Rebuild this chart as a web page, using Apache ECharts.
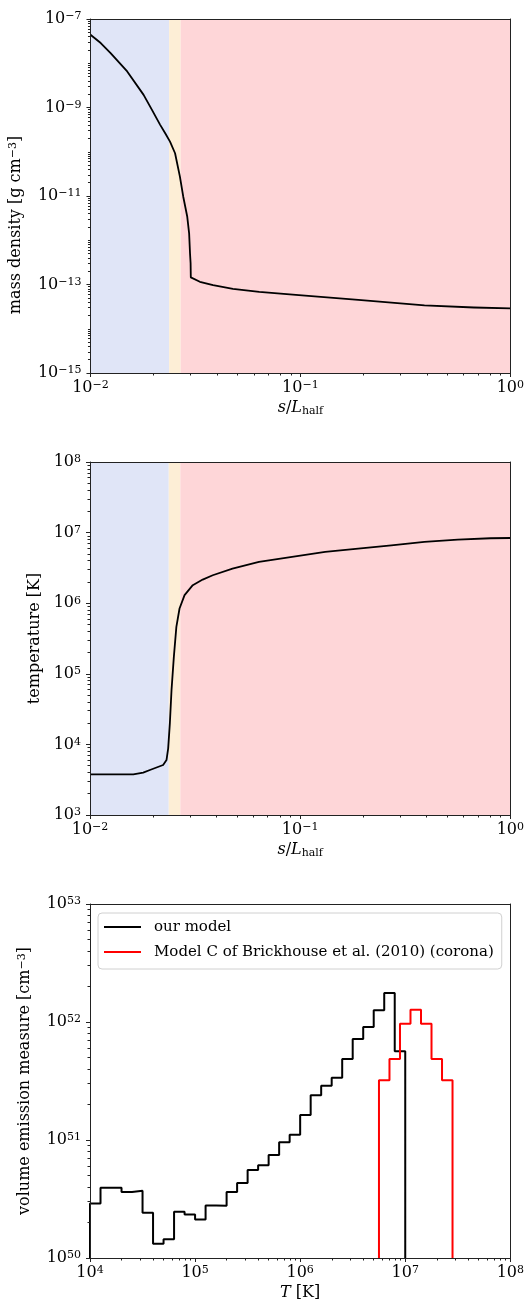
<!DOCTYPE html>
<html><head><meta charset="utf-8">
<script src="https://cdn.jsdelivr.net/npm/echarts@6/dist/echarts.min.js"></script>
<style>html,body{margin:0;padding:0;background:#fff}#c{width:527px;height:1306px}</style>
</head><body><div id="c"></div>
<script>
// ---------------- data ----------------
const densityS   = [0.01, 0.01119, 0.01247, 0.01496, 0.01791, 0.01963, 0.02148, 0.0227, 0.02393, 0.02529, 0.02667, 0.02767, 0.02891, 0.02951, 0.0298, 0.02999, 0.03006, 0.0332, 0.03837, 0.0477, 0.06368, 0.0984, 0.1888, 0.39, 0.671, 1.0];
const densityRho = [4.42e-8, 2.86e-8, 1.70e-8, 6.52e-9, 1.93e-9, 8.85e-10, 4.05e-10, 2.62e-10, 1.69e-10, 9.25e-11, 2.74e-11, 9.64e-12, 3.39e-12, 1.43e-12, 5.0e-13, 3.02e-13, 1.45e-13, 1.15e-13, 9.66e-14, 7.98e-14, 6.82e-14, 5.75e-14, 4.47e-14, 3.39e-14, 3.02e-14, 2.88e-14];

const tempS = [0.01, 0.01607, 0.01791, 0.01928, 0.02228, 0.02312, 0.02355, 0.02399, 0.02443, 0.02506, 0.02576, 0.02667, 0.02818, 0.03083, 0.03438, 0.03837, 0.04764, 0.06368, 0.0915, 0.1315, 0.1888, 0.2716, 0.39, 0.5623, 0.8045, 1.0];
const tempT = [3760, 3760, 3980, 4335, 5105, 6010, 8790, 2.0e4, 5.89e4, 1.74e5, 4.62e5, 8.41e5, 1.30e6, 1.80e6, 2.16e6, 2.49e6, 3.09e6, 3.85e6, 4.53e6, 5.32e6, 5.94e6, 6.61e6, 7.38e6, 7.94e6, 8.32e6, 8.39e6];

const regionEdges  = [0.01, 0.0237, 0.0269, 1];
const regionColors = ['#e0e5f7', '#fdeed6', '#fed6d8'];

const oursLogEdges = [4.0,4.1,4.2,4.3,4.4,4.5,4.6,4.7,4.8,4.9,5.0,5.1,5.2,5.3,5.4,5.5,5.6,5.7,5.8,5.9,6.0,6.1,6.2,6.3,6.4,6.5,6.6,6.7,6.8,6.9,7.0];
const oursEM = [2.90e50, 3.93e50, 3.93e50, 3.63e50, 3.72e50, 2.42e50, 1.32e50, 1.44e50, 2.47e50, 2.34e50, 2.12e50, 2.79e50, 2.77e50, 3.63e50, 4.33e50, 5.58e50, 6.12e50, 7.45e50, 9.55e50, 1.11e51, 1.63e51, 2.40e51, 2.88e51, 3.37e51, 4.86e51, 7.18e51, 9.08e51, 1.256e52, 1.758e52, 5.65e51];
const brickLogEdges = [6.75,6.85,6.95,7.05,7.15,7.25,7.35,7.45];
const brickEM = [3.21e51, 4.86e51, 9.68e51, 1.27e52, 9.68e51, 4.86e51, 3.21e51];

const sTicks   = [0.01, 0.1, 1];
const rhoTicks = [1e-15, 1e-13, 1e-11, 1e-9, 1e-7];
const tempTicks = [1e3, 1e4, 1e5, 1e6, 1e7, 1e8];
const TTicks   = [1e4, 1e5, 1e6, 1e7, 1e8];
const emTicks  = [1e50, 1e51, 1e52, 1e53];

const seriesNames = ['our model', 'Model C of Brickhouse et al. (2010) (corona)'];

// ---------------- helpers ----------------
const FF = '"DejaVu Serif", serif';
function minorTicks(e0, e1) {
  const out = [];
  for (let e = e0; e < e1; e++) for (let k = 2; k <= 9; k++) out.push(k * Math.pow(10, e));
  return out;
}
function pow10Label(v) {
  const e = Math.round(Math.log10(v));
  return '{b|10}{s|' + (e < 0 ? '\u2212' + (-e) : String(e)) + '}';
}
const rich = {
  b:  {fontFamily: FF, fontSize: 16, lineHeight: 16, verticalAlign: 'bottom', color: '#000'},
  s:  {fontFamily: FF, fontSize: 11, lineHeight: 11, verticalAlign: 'top', padding: [0,0,8,0], color: '#000'},
  n:  {fontFamily: FF, fontSize: 16, lineHeight: 16, verticalAlign: 'top', color: '#000'},
  it: {fontFamily: FF, fontSize: 16, lineHeight: 16, verticalAlign: 'top', fontStyle: 'italic', color: '#000'},
  sub:{fontFamily: FF, fontSize: 11, lineHeight: 11, verticalAlign: 'top', padding: [6,0,0,0], color: '#000'}
};
function stepPoints(logEdges, vals, base) {
  const pts = [[Math.pow(10, logEdges[0]), base]];
  for (let i = 0; i < vals.length; i++) {
    pts.push([Math.pow(10, logEdges[i]), vals[i]]);
    pts.push([Math.pow(10, logEdges[i + 1]), vals[i]]);
  }
  pts.push([Math.pow(10, logEdges[logEdges.length - 1]), base]);
  return pts;
}
const AX = '#222';
function mainAxis(grid, pos, min, max, majors, name, nameGap, extra) {
  return Object.assign({
    type: 'log', logBase: 10, gridIndex: grid, position: pos, min: min, max: max, z: 10,
    axisLine: {show: true, lineStyle: {color: AX, width: 1}},
    axisTick: {show: true, inside: false, length: 4, customValues: majors, lineStyle: {color: AX, width: 1}},
    axisLabel: {show: true, customValues: majors, formatter: pow10Label, rich: rich, margin: (pos === 'left' ? 9 : 7)},
    splitLine: {show: false},
    minorTick: {show: false},
    name: name, nameLocation: 'middle', nameGap: nameGap,
    nameTextStyle: {rich: rich}
  }, extra || {});
}
function minorAxis(grid, pos, min, max, minors) {
  return {
    type: 'log', logBase: 10, gridIndex: grid, position: pos, min: min, max: max, z: 11,
    axisLine: {show: false},
    axisTick: {show: true, inside: false, length: 2.5, customValues: minors, lineStyle: {color: AX, width: 1}},
    axisLabel: {show: false, customValues: minors}, splitLine: {show: false}
  };
}
function frameAxis(grid, pos, min, max) {
  return {
    type: 'log', logBase: 10, gridIndex: grid, position: pos, min: min, max: max, z: 10,
    axisLine: {show: true, onZero: false, lineStyle: {color: AX, width: 1}},
    axisTick: {show: false}, axisLabel: {show: false}, splitLine: {show: false}
  };
}
const sName = '{it|s}{n|/}{it|L}{sub|half}';

const markAreaData = [];
for (let i = 0; i < regionColors.length; i++) {
  markAreaData.push([{xAxis: regionEdges[i], itemStyle: {color: regionColors[i]}}, {xAxis: regionEdges[i + 1]}]);
}

const option = {
  animation: false,
  backgroundColor: '#fff',
  textStyle: {fontFamily: FF},
  grid: [
    {left: 90, top: 19, width: 423, height: 354},
    {left: 90, top: 462, width: 423, height: 353},
    {left: 90, top: 904, width: 423, height: 354}
  ],
  xAxis: [
    mainAxis(0, 'bottom', 0.01, 1, sTicks, sName, 26),
    minorAxis(0, 'bottom', 0.01, 1, minorTicks(-2, 0)),
    frameAxis(0, 'top', 0.01, 1),
    mainAxis(1, 'bottom', 0.01, 1, sTicks, sName, 26),
    minorAxis(1, 'bottom', 0.01, 1, minorTicks(-2, 0)),
    frameAxis(1, 'top', 0.01, 1),
    mainAxis(2, 'bottom', 1e4, 1e8, TTicks, '{it|T}{n| [K]}', 26),
    minorAxis(2, 'bottom', 1e4, 1e8, minorTicks(4, 8)),
    frameAxis(2, 'top', 1e4, 1e8)
  ],
  yAxis: [
    mainAxis(0, 'left', 1e-15, 1e-7, rhoTicks, '{b|mass density [g cm}{s|\u22123}{b|]}', 55, {nameRotate: 90, nameTextStyle: {rich: rich, padding: [0, 58, 0, 0]}}),
    minorAxis(0, 'left', 1e-15, 1e-7, minorTicks(-15, -7).concat([1e-14, 1e-12, 1e-10, 1e-8])),
    frameAxis(0, 'right', 1e-15, 1e-7),
    mainAxis(1, 'left', 1e3, 1e8, tempTicks, '{b|temperature [K]}', 39, {nameRotate: 90}),
    minorAxis(1, 'left', 1e3, 1e8, minorTicks(3, 8)),
    frameAxis(1, 'right', 1e3, 1e8),
    mainAxis(2, 'left', 1e50, 1e53, emTicks, '{b|volume emission measure [cm}{s|\u22123}{b|]}', 56, {nameRotate: 90}),
    minorAxis(2, 'left', 1e50, 1e53, minorTicks(50, 53)),
    frameAxis(2, 'right', 1e50, 1e53)
  ],
  legend: {
    show: true, orient: 'vertical', left: 98, top: 913,
    data: seriesNames,
    icon: 'rect',
    itemWidth: 37, itemHeight: 2, itemGap: 7,
    padding: [5, 8, 8, 6],
    backgroundColor: 'rgba(255,255,255,0.8)', borderColor: '#d0d0d0', borderWidth: 1, borderRadius: 4,
    textStyle: {fontFamily: FF, fontSize: 15, color: '#000', padding: [0, 0, 0, 8], lineHeight: 18}
  },
  series: [
    {
      type: 'line', name: 'density', xAxisIndex: 0, yAxisIndex: 0,
      data: densityS.map((s, i) => [s, densityRho[i]]),
      symbol: 'none', showSymbol: false, smooth: false,
      lineStyle: {color: '#000', width: 1.8, join: 'round'}, itemStyle: {color: '#000'},
      markArea: {silent: true, data: markAreaData}
    },
    {
      type: 'line', name: 'temperature', xAxisIndex: 3, yAxisIndex: 3,
      data: tempS.map((s, i) => [s, tempT[i]]),
      symbol: 'none', showSymbol: false, smooth: false,
      lineStyle: {color: '#000', width: 1.8, join: 'round'}, itemStyle: {color: '#000'},
      markArea: {silent: true, data: markAreaData}
    },
    {
      type: 'line', name: seriesNames[0], xAxisIndex: 6, yAxisIndex: 6,
      data: stepPoints(oursLogEdges, oursEM, emTicks[0]),
      symbol: 'none', showSymbol: false,
      lineStyle: {color: '#000', width: 2}, itemStyle: {color: '#000'}
    },
    {
      type: 'line', name: seriesNames[1], xAxisIndex: 6, yAxisIndex: 6,
      data: stepPoints(brickLogEdges, brickEM, emTicks[0]),
      symbol: 'none', showSymbol: false,
      lineStyle: {color: '#ff0000', width: 2}, itemStyle: {color: '#ff0000'}
    }
  ]
};
const chart = echarts.init(document.getElementById('c'), null, {renderer: 'canvas'});
chart.setOption(option);
</script>
</body></html>
